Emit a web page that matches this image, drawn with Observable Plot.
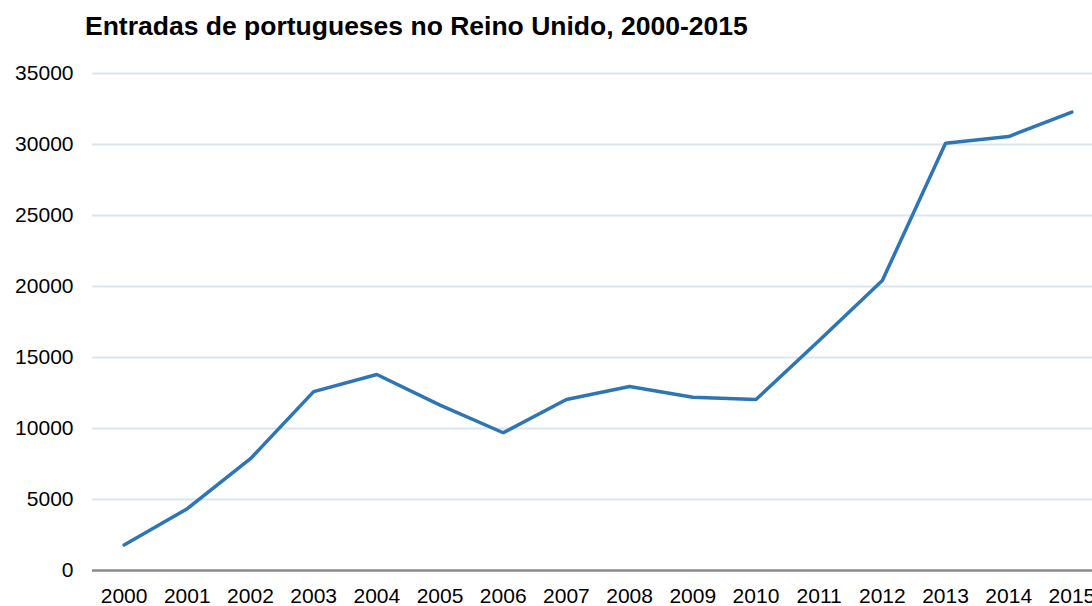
<!DOCTYPE html>
<html>
<head>
<meta charset="utf-8">
<script src="https://cdn.jsdelivr.net/npm/d3@7"></script>
<script src="https://cdn.jsdelivr.net/npm/@observablehq/plot@0.6"></script>
<style>
  html, body { margin: 0; padding: 0; background: #fff; overflow: hidden; width: 1092px; height: 606px; }
  #wrap { position: relative; width: 1092px; height: 606px; overflow: hidden; }
  #title { position: absolute; left: 85px; top: 13px; font-family: "Liberation Sans", Arial, sans-serif; font-weight: bold; font-size: 26.5px; line-height: 26px; color: #000; white-space: nowrap; }
  #chart { position: absolute; left: 0; top: 0; width: 1103px; }
  #chart svg { max-width: none !important; }
</style>
</head>
<body>
<div id="wrap">
  <div id="chart"></div>
  <div id="title">Entradas de portugueses no Reino Unido, 2000-2015</div>
</div>
<script>
const years = [2000, 2001, 2002, 2003, 2004, 2005, 2006, 2007, 2008, 2009, 2010, 2011, 2012, 2013, 2014, 2015];
const entradas = [1800, 4350, 7870, 12600, 13800, 11650, 9700, 12040, 12960, 12200, 12040, 16200, 20420, 30090, 30560, 32280];
const yTicks = [0, 5000, 10000, 15000, 20000, 25000, 30000, 35000];
const gridTicks = [5000, 10000, 15000, 20000, 25000, 30000, 35000];

const data = years.map((y, i) => ({year: y, value: entradas[i]}));

const chart = Plot.plot({
  width: 1103,
  height: 606,
  marginLeft: 92,
  marginRight: 0,
  marginTop: 73,
  marginBottom: 36,
  style: {fontFamily: "'Liberation Sans', Arial, sans-serif", fontSize: "21px", color: "#000", background: "transparent", overflow: "visible", maxWidth: "none"},
  x: {domain: [1999.5, 2015.5], ticks: years, tickFormat: d => String(d), tickSize: 0, tickPadding: 18, label: null},
  y: {domain: [0, 35000], ticks: yTicks, tickFormat: d => String(d), tickSize: 0, tickPadding: 19, label: null},
  marks: [
    Plot.ruleY(gridTicks, {stroke: "#dae5f2", strokeWidth: 2}),
    Plot.ruleY([0], {stroke: "#8a8a8a", strokeWidth: 2.5}),
    Plot.axisX({ticks: years, tickFormat: d => String(d), tickSize: 0, tickPadding: 18, fontSize: 21, label: null}),
    Plot.axisY({ticks: yTicks, tickFormat: d => String(d), tickSize: 0, tickPadding: 19, fontSize: 21, label: null}),
    Plot.line(data, {x: "year", y: "value", stroke: "#2e75b6", strokeWidth: 3.5, strokeLinejoin: "miter", strokeLinecap: "round"})
  ]
});
document.getElementById("chart").appendChild(chart);
</script>
</body>
</html>
